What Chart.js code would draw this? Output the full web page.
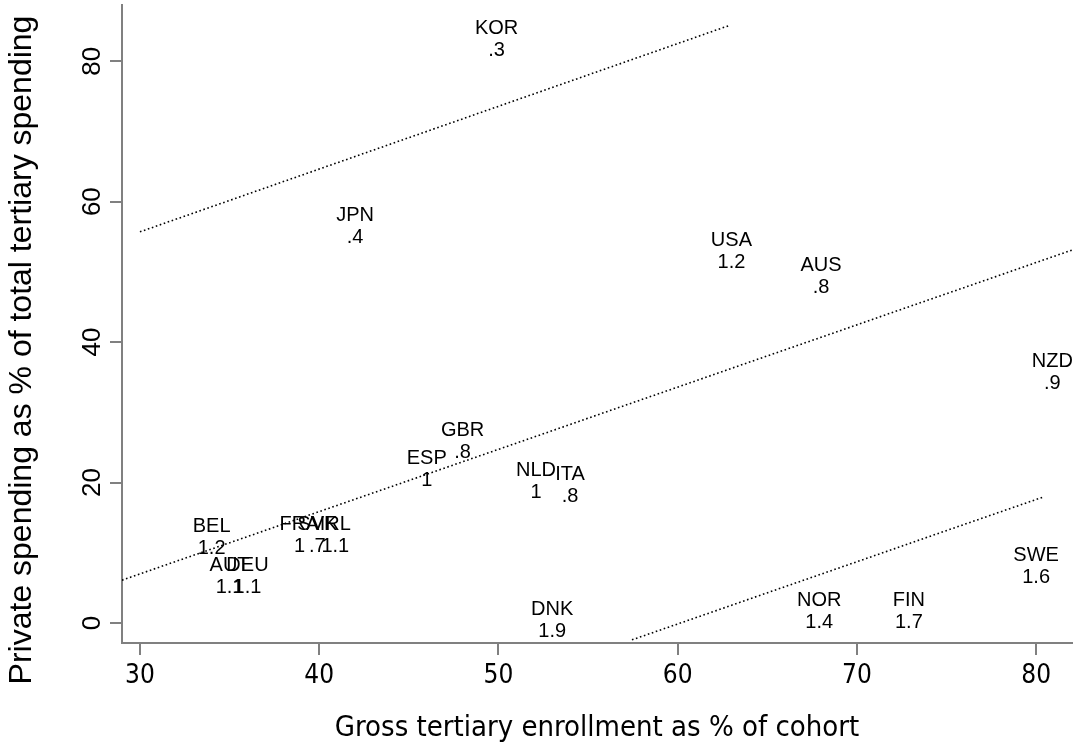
<!DOCTYPE html>
<html>
<head>
<meta charset="utf-8">
<script src="https://cdn.jsdelivr.net/npm/chart.js@4.4.1/dist/chart.umd.min.js"></script>
<style>
  html, body { margin: 0; padding: 0; background: #ffffff; }
  #wrap { width: 1081px; height: 752px; position: relative; }
</style>
</head>
<body>
<div id="wrap"><canvas id="c" width="1081" height="752"></canvas></div>
<script>
// ---- data ----
const countryCodes = ['KOR','JPN','USA','AUS','NZD','GBR','ESP','NLD','ITA','BEL','FRA','SVK','IRL','AUT','DEU','DNK','NOR','FIN','SWE'];
const enrollment   = [49.9, 42.0, 63.0, 68.0, 80.9, 48.0, 46.0, 52.1, 54.0, 34.0, 38.9, 39.9, 40.9, 35.0, 36.0, 53.0, 67.9, 72.9, 80.0];
const privateShare = [83.1, 56.5, 52.9, 49.3, 35.7, 25.9, 21.8, 20.1, 19.6, 12.2, 12.4, 12.4, 12.4, 6.6, 6.6, 0.3, 1.7, 1.7, 8.0];
const valueLabels  = ['.3','.4','1.2','.8','.9','.8','1','1','.8','1.2','1','.7','1.1','1.1','1.1','1.9','1.4','1.7','1.6'];

const upperLineX = [30.0, 62.9];
const upperLineY = [55.7, 85.1];
const middleLineX = [29.0, 82.0];
const middleLineY = [6.1, 53.1];
const lowerLineX = [57.45, 80.35];
const lowerLineY = [-2.4, 17.9];

const xTicks = [30, 40, 50, 60, 70, 80];
const yTicks = [0, 20, 40, 60, 80];

const xTitle = 'Gross tertiary enrollment as % of cohort';
const yTitle = 'Private spending as % of total tertiary spending';

// ---- build datasets ----
const points = enrollment.map((x, i) => ({ x: x, y: privateShare[i] }));
const toLine = (xs, ys) => xs.map((x, i) => ({ x: x, y: ys[i] }));

const lineStyle = {
  type: 'line', showLine: true, pointRadius: 0, borderColor: '#000000',
  borderWidth: 1.6, borderDash: [1.6, 2.6], fill: false, tension: 0
};

const AXIS_COLOR = '#808080';
const LABEL_FONT = "20px 'Liberation Sans', Arial, sans-serif";

const labelPlugin = {
  id: 'markerLabels',
  afterDatasetsDraw(chart) {
    const ctx = chart.ctx;
    const xs = chart.scales.x, ys = chart.scales.y;
    ctx.save();
    ctx.font = LABEL_FONT;
    ctx.fillStyle = '#000000';
    ctx.textAlign = 'center';
    ctx.textBaseline = 'middle';
    countryCodes.forEach((code, i) => {
      const px = xs.getPixelForValue(enrollment[i]);
      const py = ys.getPixelForValue(privateShare[i]);
      ctx.fillText(code, px, py - 11);
      ctx.fillText(valueLabels[i], px, py + 11);
    });
    ctx.restore();
  },
  afterDraw(chart) {
    const ctx = chart.ctx;
    const ys = chart.scales.y;
    ctx.save();
    ctx.font = "32px 'Liberation Sans', Arial, sans-serif";
    ctx.fillStyle = '#000000';
    ctx.textAlign = 'center';
    ctx.textBaseline = 'middle';
    ctx.translate(22, (ys.top + ys.bottom) / 2 + 26);
    ctx.rotate(-Math.PI / 2);
    ctx.fillText(yTitle, 0, 0);
    ctx.restore();
  }
};

new Chart(document.getElementById('c'), {
  type: 'scatter',
  data: {
    datasets: [
      { data: points, pointRadius: 0, pointHoverRadius: 0, showLine: false },
      Object.assign({ data: toLine(upperLineX, upperLineY) }, lineStyle),
      Object.assign({ data: toLine(middleLineX, middleLineY) }, lineStyle),
      Object.assign({ data: toLine(lowerLineX, lowerLineY) }, lineStyle)
    ]
  },
  options: {
    responsive: false,
    animation: false,
    devicePixelRatio: 1,
    layout: { padding: { left: 0, right: 9, top: 5, bottom: 0 } },
    plugins: { legend: { display: false }, tooltip: { enabled: false } },
    scales: {
      x: {
        type: 'linear', min: 29.0, max: 82.0,
        afterBuildTicks(scale) { scale.ticks = xTicks.map(v => ({ value: v })); },
        afterFit(scale) { scale.height = 109; scale.paddingLeft = 0; scale.paddingRight = 0; },
        grid: { display: true, drawOnChartArea: false, drawTicks: true, tickLength: 12, color: AXIS_COLOR, lineWidth: 2 },
        border: { display: true, color: AXIS_COLOR, width: 2 },
        ticks: { color: '#000000', padding: 6, maxRotation: 0, font: { family: "'Liberation Sans Narrow', 'DejaVu Sans Condensed', sans-serif", size: 26 } },
        title: { display: true, text: xTitle, color: '#000000', padding: { top: 0, bottom: 6 }, font: { family: "'Liberation Sans Narrow', 'DejaVu Sans Condensed', sans-serif", size: 29 } }
      },
      y: {
        type: 'linear', min: -2.85, max: 88.0,
        afterBuildTicks(scale) { scale.ticks = yTicks.map(v => ({ value: v })); },
        afterFit(scale) { scale.width = 122; scale.paddingTop = 0; scale.paddingBottom = 0; },
        grid: { display: true, drawOnChartArea: false, drawTicks: true, tickLength: 12, color: AXIS_COLOR, lineWidth: 2 },
        border: { display: true, color: AXIS_COLOR, width: 2 },
        ticks: { color: '#000000', padding: 3, minRotation: 90, maxRotation: 90, crossAlign: 'center', font: { family: "'Liberation Sans', Arial, sans-serif", size: 26 } },
        title: { display: false }
      }
    }
  },
  plugins: [labelPlugin]
});
</script>
</body>
</html>
